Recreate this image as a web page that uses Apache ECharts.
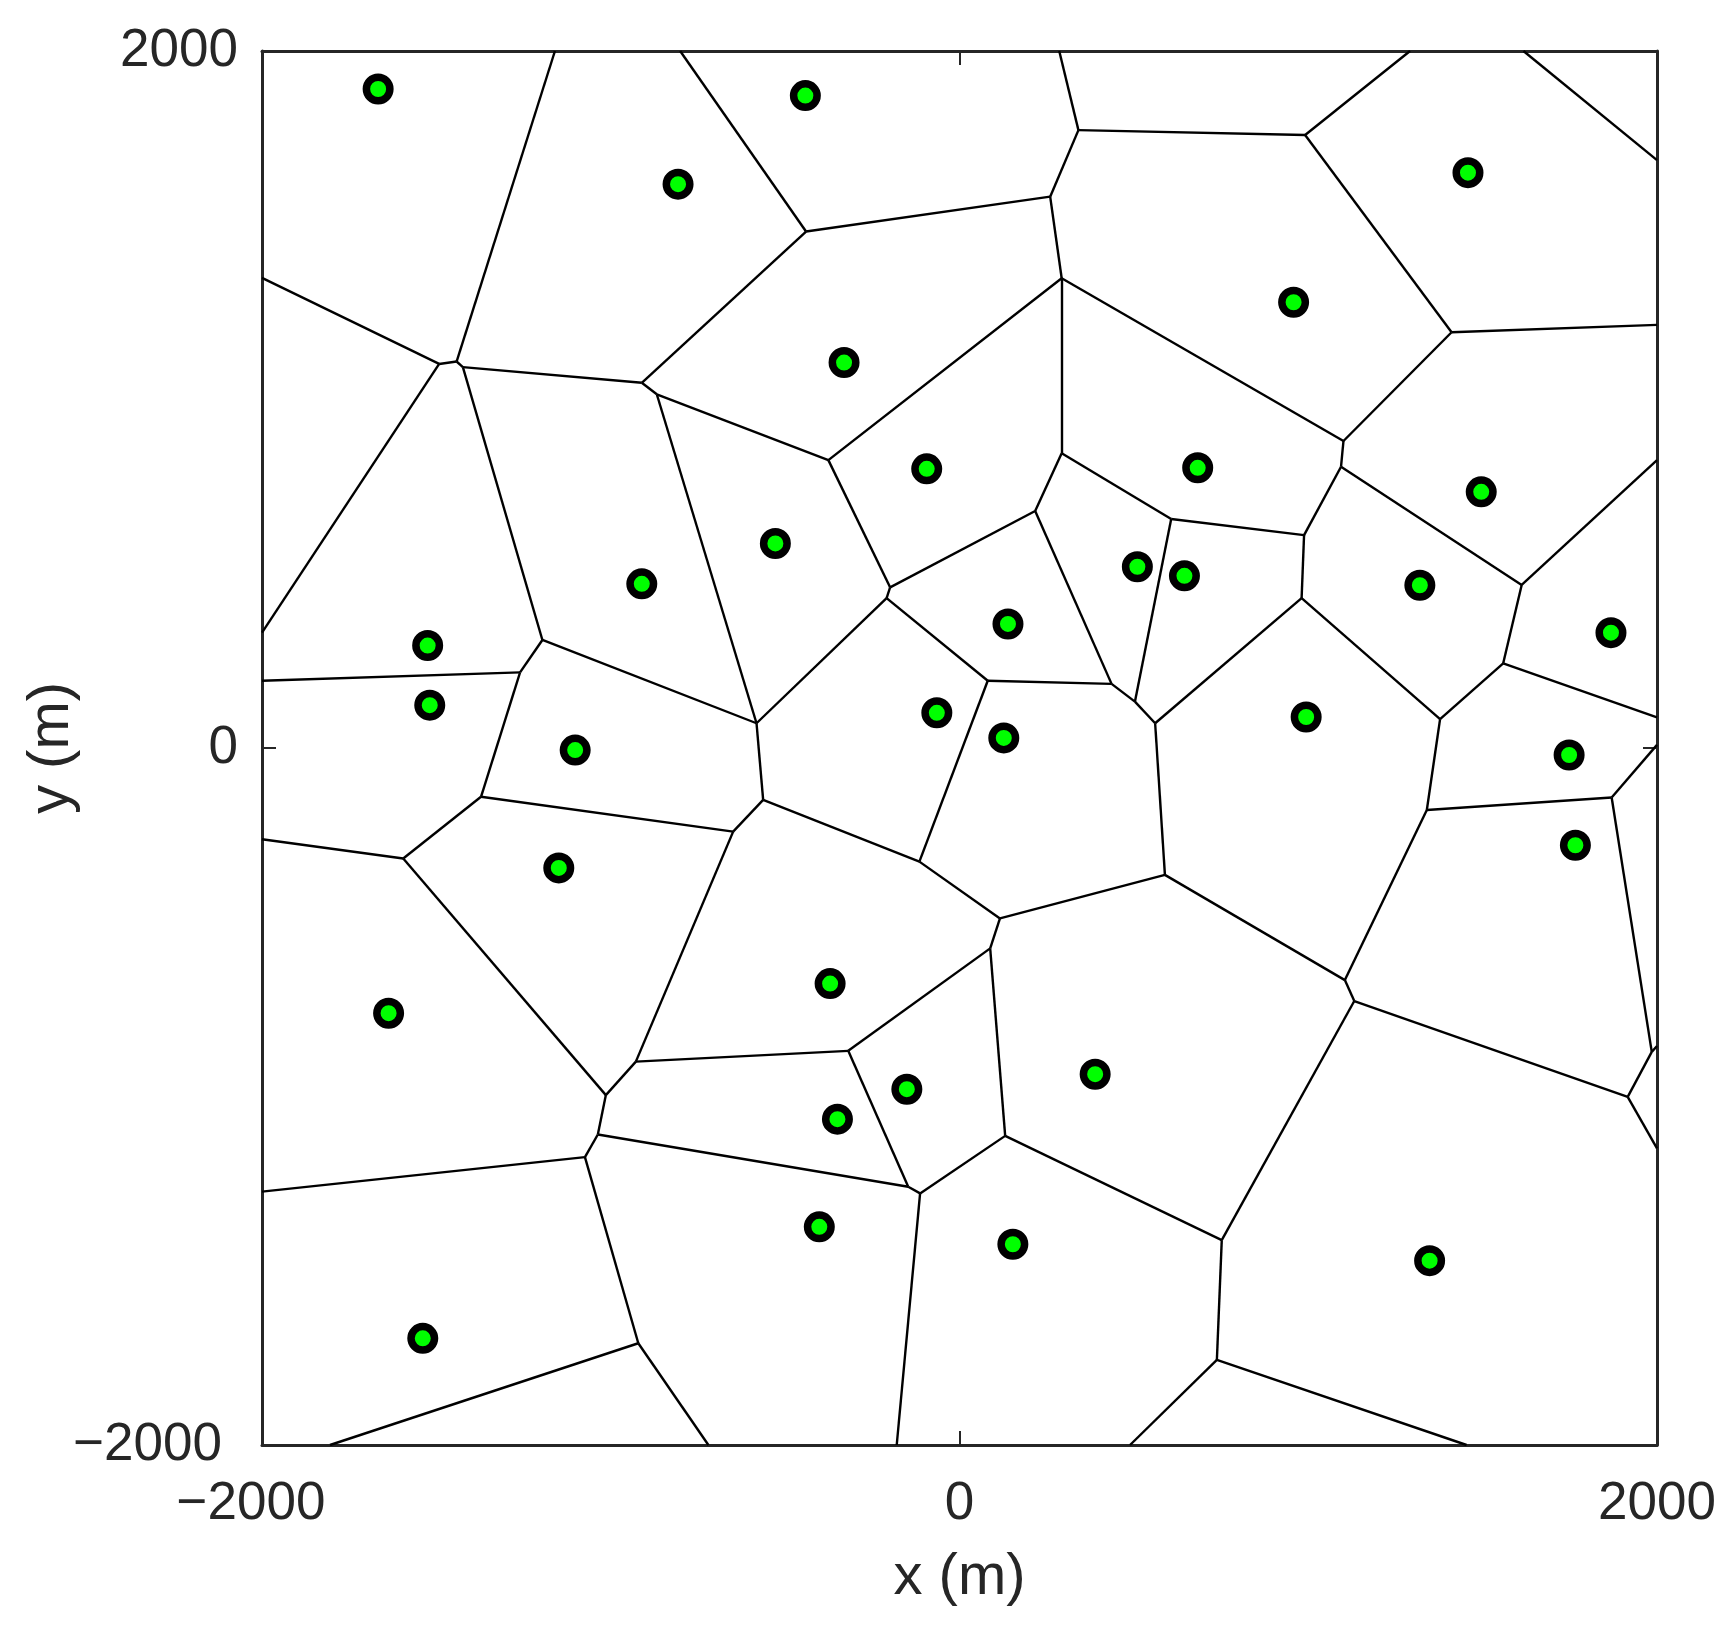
<!DOCTYPE html>
<html>
<head>
<meta charset="utf-8">
<script src="https://cdn.jsdelivr.net/npm/echarts@6/dist/echarts.min.js"></script>
<style>
    html, body { margin: 0; padding: 0; background: #fff; }
    #chart { width: 1728px; height: 1630px; }
</style>
</head>
<body>
<div id="chart"></div>
<script>
    // sites (m)
    const siteX = [-1667, -807, -442, -331, -94, 1458, 958, 683, 1496, 1320, 1868, 994, 1748, 1766, -528, 139, 510, 645, -65, 127,
        -371, -1525, -1519, -911, -1102, -1149, -1637, -1539, -151, -350, -402, 153, 389, 1348]
    const siteY = [1891, 1618, 1872, 1106, 801, 1651, 1279, 804, 735, 467, 331, 89, -20, -279, 587, 356, 520, 494, 101, 29,
        -676, 294, 123, 471, -6, -344, -761, -1694, -979, -1065, -1374, -1424, -936, -1471]

    // voronoi vertices (m), numbered from 1
    const vertices = [
        [-1160, 2000], [-1442, 1109], [-2000, 1349], [-1492, 1102], [-1424, 1093], [-911, 1048], [-2000, 331], [-1196, 310],
        [-801, 2000], [-440, 1482], [-868, 1015], [-376, 826], [-582, 71], [260, 1582], [341, 1773], [286, 2000],
        [991, 1759], [293, 1348], [293, 846], [1101, 881], [-199, 461], [217, 680], [607, 657], [-209, 430],
        [81, 193], [436, 184], [503, 133], [561, 71], [981, 430], [589, -364], [1105, -666], [116, -489],
        [-115, -326], [-563, -149], [88, -575], [-319, -869], [131, -1113], [-649, -240], [-1372, -140], [-928, -900],
        [1292, 2000], [1411, 1193], [1617, 2000], [2000, 1687], [2000, 1214], [1094, 807], [988, 611], [1612, 468],
        [2000, 826], [1378, 83], [1559, 243], [2000, 88], [1340, -178], [1870, -142], [2000, 9], [1985, -872],
        [1132, -726], [1916, -1001], [2000, -855], [2000, -1149], [752, -1412], [738, -1756], [489, -2000], [1454, -2000],
        [-2000, 193], [-1260, 217], [-1595, -317], [-2000, -262], [-1014, -996], [-1037, -1109], [-147, -1259], [-1074, -1174],
        [-2000, -1273], [-921, -1708], [-1805, -2000], [-720, -2000], [-113, -1278], [-180, -2000]
    ]

    // edges between vertices
    const edges = [
        [1, 2], [3, 4], [4, 2], [2, 5], [5, 6], [4, 7], [5, 8], [9, 10], [10, 6], [6, 11], [11, 12], [11, 13],
        [10, 14], [14, 15], [15, 16], [15, 17], [14, 18], [18, 12], [18, 19], [18, 20], [12, 21], [19, 22], [19, 23], [22, 21],
        [21, 24], [24, 13], [24, 25], [22, 26], [25, 26], [23, 27], [26, 27], [27, 28], [28, 29], [28, 30], [30, 31], [30, 32],
        [25, 33], [13, 34], [34, 33], [33, 32], [32, 35], [35, 36], [35, 37], [34, 38], [38, 39], [38, 40], [17, 41], [17, 42],
        [43, 44], [42, 45], [42, 20], [20, 46], [46, 47], [46, 48], [49, 48], [23, 47], [47, 29], [29, 50], [48, 51], [51, 52],
        [51, 50], [50, 53], [53, 54], [54, 55], [54, 56], [53, 31], [31, 57], [57, 58], [58, 56], [56, 59], [58, 60], [57, 61],
        [61, 37], [61, 62], [62, 63], [62, 64], [8, 66], [65, 66], [66, 39], [8, 13], [39, 67], [68, 67], [67, 69], [40, 69],
        [40, 36], [69, 70], [70, 71], [70, 72], [72, 73], [72, 74], [74, 75], [74, 76], [36, 71], [71, 77], [37, 77], [77, 78]
    ]

    const axisColor = '#262626'
    const fontFamily = '"Liberation Sans", Arial, Helvetica, sans-serif'

    const chart = echarts.init(document.getElementById('chart'))

    const axisBase = {
        type: 'value',
        min: -2000,
        max: 2000,
        interval: 2000,
        axisLine: { show: true, onZero: false, lineStyle: { color: axisColor, width: 3 } },
        axisTick: { show: true, inside: true, length: 14, lineStyle: { color: axisColor, width: 2 } },
        splitLine: { show: false }
    }

    // negative labels sit a little off to the left in the original
    const tickFormatter = v => v < 0 ? '{neg|\u2212' + Math.abs(v) + '}' : String(v)
    const labelStyle = pad => ({
        color: axisColor, fontSize: 53, fontFamily: fontFamily, formatter: tickFormatter,
        rich: { neg: { color: axisColor, fontSize: 53, fontFamily: fontFamily, padding: [0, pad, 0, 0] } }
    })

    chart.setOption({
        animation: false,
        backgroundColor: '#fff',
        grid: { left: 262, right: 71, top: 51, bottom: 185, containLabel: false, outerBoundsMode: 'none' },
        xAxis: [
            Object.assign({}, axisBase, {
                position: 'bottom',
                name: 'x (m)',
                nameLocation: 'middle',
                nameGap: 104,
                nameMoveOverlap: false,
                nameTextStyle: { color: axisColor, fontSize: 58, fontFamily: fontFamily },
                axisLabel: Object.assign(labelStyle(22), { margin: 33 })
            }),
            Object.assign({}, axisBase, { position: 'top', axisLabel: { show: false } })
        ],
        yAxis: [
            Object.assign({}, axisBase, {
                position: 'left',
                name: 'y (m)',
                nameLocation: 'middle',
                nameGap: 181,
                nameMoveOverlap: false,
                nameTextStyle: { color: axisColor, fontSize: 58, fontFamily: fontFamily },
                axisLabel: Object.assign(labelStyle(16), { margin: 24 })
            }),
            Object.assign({}, axisBase, { position: 'right', axisLabel: { show: false } })
        ],
        series: [
            {
                type: 'lines',
                coordinateSystem: 'cartesian2d',
                silent: true,
                z: 2,
                lineStyle: { color: '#000', width: 2.4, opacity: 1 },
                data: edges.map(([a, b]) => ({ coords: [vertices[a - 1], vertices[b - 1]] }))
            },
            {
                type: 'scatter',
                silent: true,
                z: 3,
                symbol: 'circle',
                symbolSize: 23.5,
                itemStyle: { color: '#00ff00', borderColor: '#000', borderWidth: 7.5, opacity: 1 },
                data: siteX.map((x, i) => [x, siteY[i]])
            }
        ]
    })
</script>
</body>
</html>
